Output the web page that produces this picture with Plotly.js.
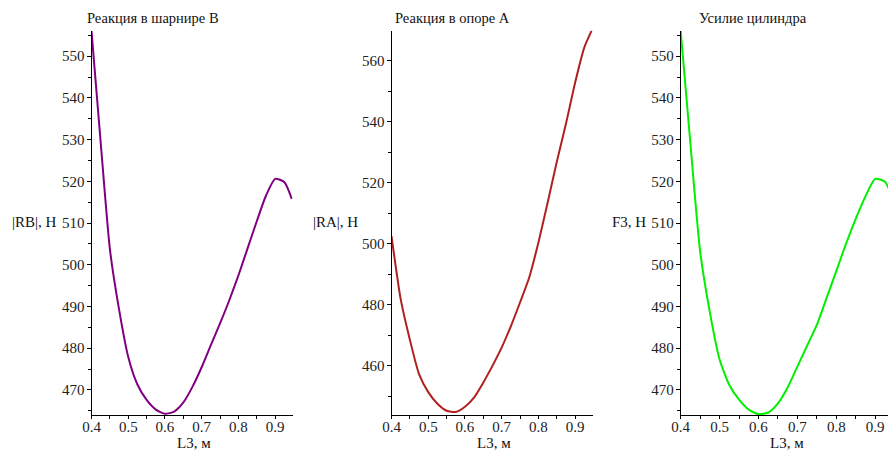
<!DOCTYPE html>
<html>
<head>
<meta charset="utf-8">
<script src="https://cdn.plot.ly/plotly-3.0.1.min.js"></script>
<style>
html,body{margin:0;padding:0;background:#fff;}
#chart{width:888px;height:453px;}
#chart text{font-family:'Liberation Serif',serif !important;}
</style>
</head>
<body>
<div id="chart"></div>
<script>
// L3, m
const L3 = [0.400, 0.425, 0.450, 0.475, 0.500, 0.525, 0.550, 0.575, 0.600, 0.625, 0.650, 0.675, 0.700, 0.725, 0.750, 0.775, 0.800, 0.825, 0.850, 0.875, 0.900, 0.925, 0.945];
// |RB|, N
const RB = [556, 529.3, 503.8, 489.3, 477.9, 471.3, 467.6, 465.3, 464.3, 464.8, 467.0, 470.8, 475.5, 480.8, 486.0, 491.5, 497.5, 504.0, 510.5, 516.6, 520.6, 519.8, 515.8];
// |RA|, N
const RA = [502.5, 481.8, 468.5, 457.2, 451.3, 447.5, 445.2, 444.8, 446.5, 449.6, 454.5, 460.0, 466.0, 473.0, 480.8, 489.0, 500.5, 513.5, 527.0, 539.5, 553.0, 564.5, 570.0];
// F3, N
const F3 = [556, 529.0, 503.2, 488.6, 477.3, 471.2, 467.7, 465.3, 464.2, 464.6, 466.8, 470.6, 475.6, 480.6, 485.6, 492.0, 498.5, 505.0, 511.0, 516.4, 520.6, 519.9, 516.0];

const titles = ["Реакция в шарнире B", "Реакция в опоре A", "Усилие цилиндра"];
const yTitles = ["|RB|, Н", "|RA|, Н", "F3, Н"];
const xTitle = "L3, м";

const W = 888, H = 453;
const FONT = "Liberation Serif, serif";
const px = v => v / W;
const py = v => (H - v) / H;

const traces = [
  {x: L3, y: RB, xaxis: 'x', yaxis: 'y', mode: 'lines', line: {color: '#800080', width: 2, shape: 'spline', smoothing: 0.6}, hoverinfo: 'none'},
  {x: L3, y: RA, xaxis: 'x2', yaxis: 'y2', mode: 'lines', line: {color: '#B0201E', width: 2, shape: 'spline', smoothing: 0.6}, hoverinfo: 'none'},
  {x: L3, y: F3, xaxis: 'x3', yaxis: 'y3', mode: 'lines', line: {color: '#00F000', width: 2, shape: 'spline', smoothing: 0.6}, hoverinfo: 'none'}
];

function xax(domain, range, anchor) {
  return {
    domain: domain, range: range, anchor: anchor,
    showline: true, linecolor: '#000', linewidth: 1,
    showgrid: false, zeroline: false,
    ticks: 'outside', ticklen: 3, tickcolor: '#000',
    tick0: 0.4, dtick: 0.1,
    minor: {dtick: 0.05, tick0: 0.4, ticks: 'outside', ticklen: 3, tickcolor: '#000', showgrid: false},
    tickfont: {family: FONT, size: 15, color: '#222'},
    ticklabelstandoff: -5,
    fixedrange: true
  };
}
function yax(domain, range, anchor, dt, mdt) {
  return {
    domain: domain, range: range, anchor: anchor,
    showline: true, linecolor: '#000', linewidth: 1,
    showgrid: false, zeroline: false,
    ticks: 'outside', ticklen: 4, tickcolor: '#000',
    dtick: dt, tick0: 0,
    minor: {dtick: mdt, tick0: 0, ticks: 'outside', ticklen: 3, tickcolor: '#000', showgrid: false},
    tickfont: {family: FONT, size: 15, color: '#222'},
    ticklabelstandoff: -1,
    fixedrange: true
  };
}

const yDom = [py(415), py(30.7)];
const layout = {
  width: W, height: H,
  margin: {l: 0, r: 0, t: 0, b: 0},
  paper_bgcolor: '#fff', plot_bgcolor: '#fff',
  font: {family: FONT, size: 15, color: '#222'},
  showlegend: false,
  xaxis: xax([px(91.5), px(292.5)], [0.4, 0.947], 'y'),
  yaxis: yax(yDom, [464.0, 556.1], 'x', 10, 5),
  xaxis2: xax([px(391.5), px(592.5)], [0.4, 0.947], 'y2'),
  yaxis2: yax(yDom, [443.8, 569.9], 'x2', 20, 10),
  xaxis3: xax([px(680.7), 1], [0.4, 0.933], 'y3'),
  yaxis3: yax(yDom, [464.0, 556.1], 'x3', 10, 5),
  annotations: []
};

const titleX = [153, 453, 752.5];
const yTitleX = [34, 335, 629];
const xTitleX = [194, 494, 786.7];
for (let i = 0; i < 3; i++) {
  layout.annotations.push({text: titles[i], xref: 'paper', yref: 'paper', x: px(titleX[i]), y: py(18.5), xanchor: 'center', yanchor: 'middle', showarrow: false, font: {family: FONT, size: 14.5, color: '#111'}});
  layout.annotations.push({text: yTitles[i], xref: 'paper', yref: 'paper', x: px(yTitleX[i]), y: py(222.5), xanchor: 'center', yanchor: 'middle', showarrow: false, font: {family: FONT, size: 15, color: '#111'}});
  layout.annotations.push({text: xTitle, xref: 'paper', yref: 'paper', x: px(xTitleX[i]), y: py(442.5), xanchor: 'center', yanchor: 'middle', showarrow: false, font: {family: FONT, size: 15, color: '#111'}});
}

Plotly.newPlot('chart', traces, layout, {staticPlot: true, displayModeBar: false});
</script>
</body>
</html>
